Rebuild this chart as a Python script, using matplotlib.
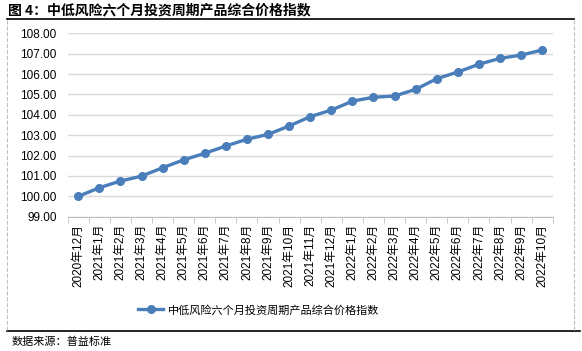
import matplotlib
matplotlib.use("Agg")
from matplotlib import pyplot as plt
from matplotlib.lines import Line2D
import numpy as np

plt.rcParams['font.family'] = ['Liberation Sans', 'Noto Sans CJK SC', 'DejaVu Sans']

# data
months = ["2020年12月", "2021年1月", "2021年2月", "2021年3月", "2021年4月", "2021年5月",
          "2021年6月", "2021年7月", "2021年8月", "2021年9月", "2021年10月", "2021年11月",
          "2021年12月", "2022年1月", "2022年2月", "2022年3月", "2022年4月", "2022年5月",
          "2022年6月", "2022年7月", "2022年8月", "2022年9月", "2022年10月"]
index_values = [100.00, 100.42, 100.75, 100.99, 101.40, 101.79, 102.11, 102.47, 102.80,
                103.04, 103.45, 103.91, 104.23, 104.67, 104.86, 104.92, 105.25, 105.77,
                106.10, 106.48, 106.77, 106.93, 107.18]
series_name = "中低风险六个月投资周期产品综合价格指数"
title = "图 4：中低风险六个月投资周期产品综合价格指数"
source = "数据来源：普益标准"

W, H = 582, 351
fig = plt.figure(figsize=(W / 100, H / 100), dpi=100)

# plot area in pixel coords
x0, x1 = 67.7, 552.7
y_top, y_bot = 33.3, 216.7
ax = fig.add_axes([x0 / W, 1 - y_bot / H, (x1 - x0) / W, (y_bot - y_top) / H])

color = "#4A7EBB"
x = np.arange(len(months))
ax.plot(x, index_values, color=color, lw=2.4, marker="o", ms=5.5, zorder=3)

ax.set_xlim(-0.5, len(months) - 0.5)
ax.set_ylim(99, 108)
ax.set_yticks(np.arange(99, 108.5, 1))
ax.set_yticklabels([f"{v:.2f}" for v in np.arange(99, 108.5, 1)], fontsize=8.5)
ax.grid(axis="y", color="#D9D9D9", lw=1)
ax.set_axisbelow(True)

ax.set_xticks(x)
ax.set_xticklabels(months, rotation=90, fontsize=8.5)
ax.set_xticks(np.arange(-0.5, len(months), 1), minor=True)
ax.tick_params(axis="x", which="major", length=0, pad=5)
ax.tick_params(axis="x", which="minor", length=4, color="#BFBFBF")
ax.tick_params(axis="y", length=0, pad=8)

for s in ["top", "right", "left"]:
    ax.spines[s].set_visible(False)
ax.spines["bottom"].set_color("#BFBFBF")

# legend
handle = Line2D([], [], color=color, lw=2.4, marker="o", ms=5.5)
fig.legend([handle], [series_name], loc="center", bbox_to_anchor=(259 / W, 1 - 310 / H),
           frameon=False, handlelength=2.2, handletextpad=0.5,
           prop={'family': ['Noto Sans CJK SC'], 'size': 8})

# title, frame lines, source
fig.text(8 / W, 1 - 10 / H, title, fontsize=10, fontweight="bold", va="center",
         family=['Noto Sans CJK SC'])
fig.add_artist(Line2D([7 / W, 574 / W], [1 - 19 / H, 1 - 19 / H], color="black", lw=1.2))
fig.add_artist(Line2D([7 / W, 580 / W], [1 - 331 / H, 1 - 331 / H], color="black", lw=1.2))
fig.add_artist(Line2D([7 / W, 7 / W], [1 - 20 / H, 1 - 330 / H], color="#BFBFBF", lw=0.8, ls="--"))
fig.add_artist(Line2D([574 / W, 574 / W], [1 - 20 / H, 1 - 330 / H], color="#BFBFBF", lw=0.8, ls="--"))
fig.text(12 / W, 1 - 342 / H, source, fontsize=8, va="center", family=['Noto Sans CJK SC'])

fig.savefig("out.png", dpi=100)
